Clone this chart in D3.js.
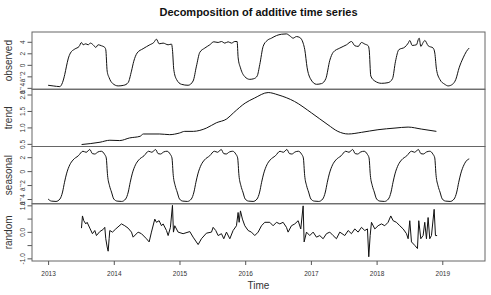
<!DOCTYPE html>
<html>
<head>
  <title>Decomposition of additive time series</title>
  <script src="https://d3js.org/d3.v7.min.js"></script>
  <style>
    body { margin: 0; background: #fff; }
    svg { font-family: "Liberation Sans", Arial, sans-serif; }
  </style>
</head>
<body>
<svg class="chart" width="491" height="295"></svg>
<script>
// [time (decimal year), value]
const observed = [
  [2013.000,-3.55],[2013.077,-3.66],[2013.178,-3.78],[2013.219,-3.09],[2013.254,-1.66],[2013.280,-0.23],
  [2013.305,1.02],[2013.340,2.05],[2013.406,2.74],[2013.472,3.19],[2013.508,3.88],[2013.533,3.48],
  [2013.574,3.65],[2013.609,3.48],[2013.645,3.77],[2013.685,3.48],[2013.726,3.02],[2013.762,3.48],
  [2013.812,3.31],[2013.863,3.02],[2013.878,2.62],[2013.899,-1.09],[2013.929,-2.23],[2013.980,-3.21],
  [2014.066,-3.66],[2014.152,-3.55],[2014.218,-3.09],[2014.269,-1.09],[2014.304,0.62],[2014.355,2.05],
  [2014.446,2.80],[2014.548,3.48],[2014.609,3.88],[2014.649,4.45],[2014.690,3.65],[2014.751,3.77],
  [2014.827,3.48],[2014.878,3.60],[2014.893,2.62],[2014.913,-0.81],[2014.954,-2.52],[2015.030,-3.38],
  [2015.131,-3.55],[2015.207,-2.81],[2015.258,-0.23],[2015.309,2.17],[2015.385,2.91],[2015.461,3.48],
  [2015.522,4.00],[2015.588,3.88],[2015.639,4.05],[2015.690,3.77],[2015.740,4.00],[2015.791,3.77],
  [2015.842,4.05],[2015.877,4.05],[2015.893,1.20],[2015.928,-0.52],[2015.994,-2.06],[2016.070,-2.52],
  [2016.131,-2.41],[2016.182,-1.95],[2016.222,0.05],[2016.273,3.20],[2016.334,4.22],[2016.400,4.63],
  [2016.476,5.08],[2016.552,5.31],[2016.628,5.37],[2016.679,5.03],[2016.730,4.63],[2016.780,4.91],
  [2016.831,4.74],[2016.882,3.77],[2016.907,2.62],[2016.943,-0.52],[2016.993,-2.41],[2017.085,-3.38],
  [2017.161,-3.26],[2017.227,-2.41],[2017.288,0.79],[2017.339,2.17],[2017.440,2.91],[2017.542,3.48],
  [2017.618,4.05],[2017.669,3.31],[2017.720,3.20],[2017.770,3.88],[2017.821,3.60],[2017.872,3.31],
  [2017.887,2.62],[2017.912,-1.95],[2017.973,-2.81],[2018.075,-3.21],[2018.176,-3.09],[2018.242,-2.41],
  [2018.288,0.62],[2018.338,2.62],[2018.430,3.08],[2018.481,3.77],[2018.506,4.23],[2018.541,3.37],
  [2018.607,3.48],[2018.633,4.34],[2018.648,4.63],[2018.673,3.20],[2018.709,3.88],[2018.734,4.23],
  [2018.785,3.31],[2018.861,2.91],[2018.886,2.05],[2018.912,-0.81],[2018.962,-2.52],[2019.038,-3.38],
  [2019.089,-3.66],[2019.155,-3.38],[2019.206,-2.52],[2019.256,-0.52],[2019.317,1.20],[2019.368,2.34],
  [2019.409,2.91]
];

const trend = [
  [2013.51,0.48],[2013.79,0.55],[2013.94,0.61],[2014.09,0.60],[2014.24,0.68],[2014.40,0.73],
  [2014.45,0.80],[2014.70,0.80],[2014.85,0.78],[2015.00,0.83],[2015.08,0.88],[2015.21,0.88],
  [2015.31,0.91],[2015.41,0.98],[2015.56,1.14],[2015.72,1.26],[2015.82,1.44],[2016.00,1.74],
  [2016.14,1.89],[2016.35,2.06],[2016.50,1.99],[2016.75,1.79],[2017.01,1.44],[2017.26,1.08],
  [2017.41,0.88],[2017.57,0.80],[2017.77,0.85],[2018.02,0.93],[2018.28,0.98],[2018.48,1.01],
  [2018.68,0.95],[2018.91,0.88]
];

const seasonal = [
  [2013.000,-4.0],[2013.050,-4.3],[2013.120,-4.35],[2013.180,-4.0],[2013.220,-3.0],[2013.250,-1.6],
  [2013.280,-0.4],[2013.330,0.9],[2013.380,1.6],[2013.460,2.2],[2013.530,2.85],[2013.580,2.7],
  [2013.635,3.1],[2013.675,2.5],[2013.710,2.45],[2013.760,2.75],[2013.810,2.85],[2013.860,2.4],
  [2013.885,1.9],[2013.905,-0.6],[2013.935,-2.1],[2013.965,-3.0],
  [2014.000,-4.0],[2014.050,-4.3],[2014.120,-4.35],[2014.180,-4.0],[2014.220,-3.0],[2014.250,-1.6],
  [2014.280,-0.4],[2014.330,0.9],[2014.380,1.6],[2014.460,2.2],[2014.530,2.85],[2014.580,2.7],
  [2014.635,3.1],[2014.675,2.5],[2014.710,2.45],[2014.760,2.75],[2014.810,2.85],[2014.860,2.4],
  [2014.885,1.9],[2014.905,-0.6],[2014.935,-2.1],[2014.965,-3.0],
  [2015.000,-4.0],[2015.050,-4.3],[2015.120,-4.35],[2015.180,-4.0],[2015.220,-3.0],[2015.250,-1.6],
  [2015.280,-0.4],[2015.330,0.9],[2015.380,1.6],[2015.460,2.2],[2015.530,2.85],[2015.580,2.7],
  [2015.635,3.1],[2015.675,2.5],[2015.710,2.45],[2015.760,2.75],[2015.810,2.85],[2015.860,2.4],
  [2015.885,1.9],[2015.905,-0.6],[2015.935,-2.1],[2015.965,-3.0],
  [2016.000,-4.0],[2016.050,-4.3],[2016.120,-4.35],[2016.180,-4.0],[2016.220,-3.0],[2016.250,-1.6],
  [2016.280,-0.4],[2016.330,0.9],[2016.380,1.6],[2016.460,2.2],[2016.530,2.85],[2016.580,2.7],
  [2016.635,3.1],[2016.675,2.5],[2016.710,2.45],[2016.760,2.75],[2016.810,2.85],[2016.860,2.4],
  [2016.885,1.9],[2016.905,-0.6],[2016.935,-2.1],[2016.965,-3.0],
  [2017.000,-4.0],[2017.050,-4.3],[2017.120,-4.35],[2017.180,-4.0],[2017.220,-3.0],[2017.250,-1.6],
  [2017.280,-0.4],[2017.330,0.9],[2017.380,1.6],[2017.460,2.2],[2017.530,2.85],[2017.580,2.7],
  [2017.635,3.1],[2017.675,2.5],[2017.710,2.45],[2017.760,2.75],[2017.810,2.85],[2017.860,2.4],
  [2017.885,1.9],[2017.905,-0.6],[2017.935,-2.1],[2017.965,-3.0],
  [2018.000,-4.0],[2018.050,-4.3],[2018.120,-4.35],[2018.180,-4.0],[2018.220,-3.0],[2018.250,-1.6],
  [2018.280,-0.4],[2018.330,0.9],[2018.380,1.6],[2018.460,2.2],[2018.530,2.85],[2018.580,2.7],
  [2018.635,3.1],[2018.675,2.5],[2018.710,2.45],[2018.760,2.75],[2018.810,2.85],[2018.860,2.4],
  [2018.885,1.9],[2018.905,-0.6],[2018.935,-2.1],[2018.965,-3.0],
  [2019.000,-4.0],[2019.050,-4.3],[2019.120,-4.35],[2019.180,-4.0],[2019.220,-3.0],[2019.250,-1.6],
  [2019.280,-0.4],[2019.330,0.9],[2019.380,1.6],[2019.410,1.75]
];

const random = [
  [2013.508,0.14],[2013.523,0.60],[2013.543,0.42],[2013.574,0.30],[2013.594,0.36],[2013.635,0.14],
  [2013.675,-0.07],[2013.711,0.05],[2013.736,-0.14],[2013.787,0.01],[2013.838,0.09],[2013.863,0.17],
  [2013.878,-0.26],[2013.899,-0.57],[2013.914,-0.73],[2013.929,-0.26],[2013.939,0.05],[2013.980,-0.01],
  [2014.030,0.11],[2014.117,0.30],[2014.167,0.23],[2014.218,0.14],[2014.269,-0.01],[2014.294,-0.20],
  [2014.370,-0.01],[2014.421,-0.07],[2014.497,-0.26],[2014.538,-0.38],[2014.573,-0.01],[2014.624,0.48],
  [2014.649,0.36],[2014.690,0.42],[2014.726,0.23],[2014.751,0.30],[2014.802,0.05],[2014.827,-0.14],
  [2014.862,0.17],[2014.893,1.00],[2014.908,-0.01],[2014.928,0.23],[2014.979,-0.01],[2015.055,-0.07],
  [2015.157,0.01],[2015.207,-0.20],[2015.284,-0.48],[2015.334,-0.26],[2015.410,-0.05],[2015.487,-0.01],
  [2015.512,0.17],[2015.552,0.05],[2015.588,-0.14],[2015.639,-0.07],[2015.674,-0.26],[2015.715,-0.01],
  [2015.766,-0.26],[2015.816,0.05],[2015.867,0.23],[2015.892,0.73],[2015.908,0.36],[2015.928,0.79],
  [2015.958,0.48],[2015.994,0.23],[2016.045,0.05],[2016.095,-0.01],[2016.146,-0.14],[2016.197,-0.01],
  [2016.248,0.23],[2016.298,0.36],[2016.374,0.36],[2016.425,0.23],[2016.476,0.36],[2016.527,0.30],
  [2016.577,0.36],[2016.628,0.17],[2016.653,-0.01],[2016.704,0.23],[2016.755,0.30],[2016.806,0.42],
  [2016.846,0.11],[2016.882,0.98],[2016.897,-0.38],[2016.933,-0.01],[2016.983,-0.14],[2017.034,-0.01],
  [2017.085,-0.20],[2017.135,-0.14],[2017.186,-0.26],[2017.237,-0.07],[2017.287,-0.01],[2017.338,-0.14],
  [2017.389,-0.26],[2017.440,-0.01],[2017.516,-0.14],[2017.567,0.05],[2017.617,-0.07],[2017.668,0.11],
  [2017.719,-0.01],[2017.770,0.17],[2017.820,0.05],[2017.861,0.11],[2017.881,-0.94],[2017.902,-0.14],
  [2017.922,0.36],[2017.973,0.11],[2018.023,0.23],[2018.074,0.30],[2018.124,0.23],[2018.175,0.36],
  [2018.216,0.60],[2018.252,0.42],[2018.302,0.36],[2018.353,0.23],[2018.404,0.11],[2018.455,-0.07],
  [2018.480,-0.26],[2018.505,0.42],[2018.531,-0.38],[2018.581,-0.51],[2018.622,-0.63],[2018.642,0.42],
  [2018.673,-0.26],[2018.708,-0.14],[2018.733,0.36],[2018.759,-0.26],[2018.784,0.54],[2018.809,-0.26],
  [2018.835,-0.14],[2018.876,0.85],[2018.896,-0.14],[2018.921,-0.14]
];

const years = [2013, 2014, 2015, 2016, 2017, 2018, 2019];
const panelNames = ["observed", "trend", "seasonal", "random"];
const observedTicks = [-4, -2, 0, 2, 4];
const trendTicks = [0.5, 1.0, 1.5, 2.0];
const seasonalTicks = [-4, -2, 0, 2];
const randomTicks = [-1.0, -0.5, 0.0, 0.5, 1.0];
const randomLabels = ["-1.0", "", "0.0", "", "1.0"];

const plotLeft = 32, plotRight = 485, plotTop = 32, panelH = 57.25;

const svg = d3.select('.chart');

const x = d3.scaleLinear()
    .domain([2012.755, 2019.65])
    .range([plotLeft, plotRight]);

const panels = [
    {name: panelNames[0], data: observed, domain: [-4.24, 5.7], ticks: observedTicks, fmt: d3.format("d"), curve: d3.curveMonotoneX},
    {name: panelNames[1], data: trend, domain: [0.42, 2.16], ticks: trendTicks, fmt: d3.format(".1f"), curve: d3.curveMonotoneX},
    {name: panelNames[2], data: seasonal, domain: [-4.68, 3.53], ticks: seasonalTicks, fmt: d3.format("d"), curve: d3.curveMonotoneX},
    {name: panelNames[3], data: random, domain: [-1.1, 1.06], ticks: randomTicks, fmt: (d, i) => randomLabels[i], curve: d3.curveLinear}
];

svg.append("text")
    .attr("x", (plotLeft + plotRight) / 2)
    .attr("y", 16)
    .attr("text-anchor", "middle")
    .style("font-size", "11px")
    .style("font-weight", "bold")
    .style("fill", "#111")
    .text("Decomposition of additive time series");

panels.forEach((p, i) => {
    const y0 = plotTop + i * panelH;
    const y = d3.scaleLinear()
        .domain(p.domain)
        .range([y0 + panelH, y0]);

    const line = d3.line()
        .curve(p.curve)
        .x(d => x(d[0]))
        .y(d => y(d[1]));

    svg.append("path")
        .datum(p.data)
        .attr("d", line)
        .attr("fill", "none")
        .attr("stroke", "#111")
        .attr("stroke-width", 1)
        .attr("stroke-linejoin", "round");

    const yAxis = d3.axisLeft(y)
        .tickValues(p.ticks)
        .tickFormat(p.fmt)
        .tickSize(4.5);

    const g = svg.append("g")
        .attr("transform", `translate(${plotLeft},0)`)
        .call(yAxis);
    g.select(".domain").remove();
    g.selectAll("line").attr("stroke", "#555");
    g.selectAll("text")
        .attr("x", null)
        .attr("dy", null)
        .attr("text-anchor", "middle")
        .attr("transform", "translate(-7,0) rotate(-90)")
        .style("font-size", "6.5px")
        .style("fill", "#333")
        .style("font-family", "'Liberation Sans', Arial, sans-serif");

    svg.append("rect")
        .attr("x", plotLeft)
        .attr("y", y0)
        .attr("width", plotRight - plotLeft)
        .attr("height", panelH)
        .attr("fill", "none")
        .attr("stroke", "#666")
        .attr("stroke-width", 1);

    svg.append("text")
        .attr("transform", `translate(12,${y0 + panelH / 2}) rotate(-90)`)
        .attr("text-anchor", "middle")
        .style("font-size", "10px")
        .style("fill", "#333")
        .text(p.name);
});

const xAxis = d3.axisBottom(x)
    .tickValues(years)
    .tickFormat(d3.format("d"))
    .tickSize(4)
    .tickPadding(6);

const gx = svg.append("g")
    .attr("transform", `translate(0,${plotTop + 4 * panelH})`)
    .call(xAxis);
gx.select(".domain").remove();
gx.selectAll("line").attr("stroke", "#555");
gx.selectAll("text")
    .style("font-size", "6.5px")
    .style("fill", "#333")
    .style("font-family", "'Liberation Sans', Arial, sans-serif");

svg.append("text")
    .attr("x", (plotLeft + plotRight) / 2)
    .attr("y", 289)
    .attr("text-anchor", "middle")
    .style("font-size", "10px")
    .style("fill", "#333")
    .text("Time");
</script>
</body>
</html>
